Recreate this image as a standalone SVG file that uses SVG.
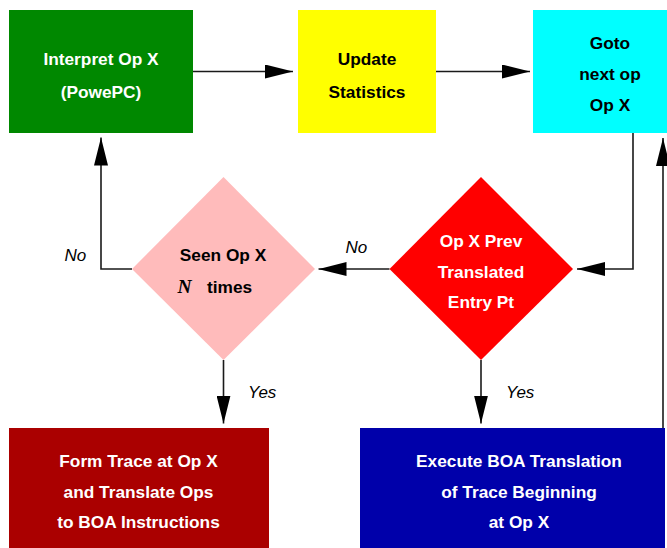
<svg xmlns="http://www.w3.org/2000/svg" width="667" height="548" viewBox="0 0 667 548">
<style>
.t{font-family:"Liberation Sans",Arial,sans-serif;font-weight:bold;font-size:17.3px;text-anchor:middle}
.w{fill:#ffffff}
.k{fill:#000000}
.lbl{font-family:"Liberation Sans",Arial,sans-serif;font-style:italic;font-size:17px;fill:#000}
.c{fill:none;stroke:#1a1a1a;stroke-width:1.6}
</style>
<defs>
<marker id="ah" markerUnits="userSpaceOnUse" markerWidth="28" markerHeight="14" refX="28" refY="7" orient="auto">
<path d="M0,0 L28,7 L0,14 Z" fill="#000"/>
</marker>
</defs>
<rect width="667" height="548" fill="#fff"/>
<g id="connectors">
<line class="c" x1="193" y1="71.5" x2="293" y2="71.5" marker-end="url(#ah)"/>
<line class="c" x1="436" y1="71.5" x2="530" y2="71.5" marker-end="url(#ah)"/>
<polyline class="c" points="633,133 633,269 577,269" marker-end="url(#ah)"/>
<line class="c" x1="389.5" y1="269" x2="318.5" y2="269" marker-end="url(#ah)"/>
<polyline class="c" points="132,269 101,269 101,137.5" marker-end="url(#ah)"/>
<line class="c" x1="223.5" y1="360" x2="223.5" y2="423.5" marker-end="url(#ah)"/>
<line class="c" x1="481" y1="360" x2="481" y2="423.5" marker-end="url(#ah)"/>
<line class="c" x1="663" y1="428" x2="663" y2="138" marker-end="url(#ah)"/>
<text class="lbl" x="345.5" y="253">No</text>
<text class="lbl" x="64.5" y="261">No</text>
<text class="lbl" x="248" y="398">Yes</text>
<text class="lbl" x="506" y="398">Yes</text>
</g>
<g id="interpret">
<rect x="9" y="10" width="184" height="123" fill="#008800"/>
<text class="t w" x="101" y="65">Interpret Op X</text>
<text class="t w" x="101" y="98">(PowePC)</text>
</g>
<g id="update">
<rect x="298" y="10" width="138" height="123" fill="#ffff00"/>
<text class="t k" x="367" y="65">Update</text>
<text class="t k" x="367" y="98">Statistics</text>
</g>
<g id="goto">
<rect x="533" y="10" width="134" height="123" fill="#00ffff"/>
<text class="t k" x="610" y="49">Goto</text>
<text class="t k" x="610" y="80">next op</text>
<text class="t k" x="610" y="111">Op X</text>
</g>
<g id="prev-translated">
<polygon points="481,177 573,269 481,360 389.5,269" fill="#ff0000"/>
<text class="t w" x="481" y="247">Op X Prev</text>
<text class="t w" x="481" y="277.5">Translated</text>
<text class="t w" x="481" y="308">Entry Pt</text>
</g>
<g id="seen-n">
<polygon points="223.5,177 315,269 223.5,360 132,269" fill="#ffbbbb"/>
<text class="t k" x="223" y="261">Seen Op X</text>
<text x="177.5" y="293" style="font-family:'Liberation Serif','Times New Roman',serif;font-style:italic;font-weight:bold;font-size:19.5px;fill:#000">N</text>
<text class="t k" x="207" y="293" style="text-anchor:start">times</text>
</g>
<g id="form-trace">
<rect x="9" y="428" width="260" height="120" fill="#aa0000"/>
<text class="t w" x="138.5" y="467">Form Trace at Op X</text>
<text class="t w" x="138.5" y="497.5">and Translate Ops</text>
<text class="t w" x="138.5" y="528">to BOA Instructions</text>
</g>
<g id="execute">
<rect x="360" y="428" width="305" height="120" fill="#0000aa"/>
<text class="t w" x="519" y="467">Execute BOA Translation</text>
<text class="t w" x="519" y="497.5">of Trace Beginning</text>
<text class="t w" x="519" y="528">at Op X</text>
</g>
</svg>
